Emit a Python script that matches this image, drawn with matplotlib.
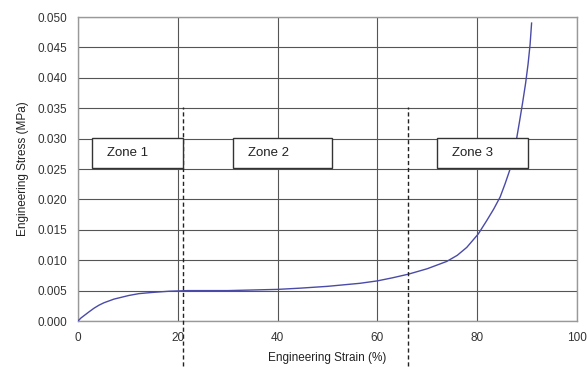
import numpy as np
import matplotlib.pyplot as plt
from matplotlib.patches import Rectangle

plt.rcParams['font.family'] = ['Liberation Sans', 'DejaVu Sans']

# curva tensao-deformacao
strain = [0, 0.6, 1.4, 2.2, 3.2, 4.2, 5.2, 6.2, 7.2, 8.2, 10.2, 12.2, 14.9, 18.3, 22, 26, 30,
          35, 40, 44.5, 50, 56.5, 60, 63, 66.2, 70, 73.9, 76, 77.9, 80.2, 81.9, 83.3,
          84.6, 85.6, 86.6, 87.3, 87.9, 88.5, 89.1, 89.7, 90.2, 90.6, 90.9]
stress = [0, 0.0005, 0.0010, 0.0015, 0.0021, 0.0026, 0.0030, 0.0033, 0.0036, 0.0038, 0.0042,
          0.0045, 0.0047, 0.0049, 0.0050, 0.0050, 0.0050, 0.0051, 0.0052, 0.0054, 0.0057,
          0.0062, 0.0066, 0.0071, 0.0077, 0.0086, 0.0098, 0.0108, 0.0121, 0.0143, 0.0165,
          0.0184, 0.0204, 0.0226, 0.0250, 0.0274, 0.0300, 0.0329, 0.0359, 0.0391, 0.0423,
          0.0455, 0.0490]

zone_labels = ['Zone 1', 'Zone 2', 'Zone 3']
zone_x0 = [2.8, 31, 72]
zone_x1 = [21, 51, 90.2]
zone_lines = [21, 66.2]

fig = plt.figure(figsize=(5.87, 3.74), dpi=100)
ax = fig.add_axes([78 / 587, 1 - 321 / 374, 499 / 587, 304 / 374])

ax.plot(strain, stress, color='#4a4aa8', lw=1.0, zorder=3)

ax.set_xlim(0, 100)
ax.set_ylim(0, 0.05)
ax.set_xticks(np.arange(0, 101, 20))
ax.set_yticks(np.arange(0, 0.0501, 0.005))
ax.set_yticklabels([f"{v:.3f}" for v in np.arange(0, 0.0501, 0.005)])
ax.tick_params(length=0, labelsize=8.5, pad=8, colors='#333333')
ax.grid(True, color='#555555', lw=0.8)
ax.set_axisbelow(True)
for s in ax.spines.values():
    s.set_color('#999999')
    s.set_linewidth(1.0)

ax.set_xlabel('Engineering Strain (%)', fontsize=8.5, labelpad=6, color='#222222')
ax.set_ylabel('Engineering Stress (MPa)', fontsize=8.5, labelpad=6, color='#222222')

for xv in zone_lines:
    ax.plot([xv, xv], [-0.0074, 0.0352], color='#222222', lw=1.0,
            ls=(0, (3, 2)), clip_on=False, zorder=4)

for lab, x0, x1 in zip(zone_labels, zone_x0, zone_x1):
    ax.add_patch(Rectangle((x0, 0.0252), x1 - x0, 0.0049, facecolor='white',
                           edgecolor='#333333', lw=1.0, zorder=5))
    ax.text(x0 + 3, 0.02765, lab, fontsize=9.5, va='center', ha='left',
            color='#222222', zorder=6)

fig.savefig('out.png', dpi=100)
